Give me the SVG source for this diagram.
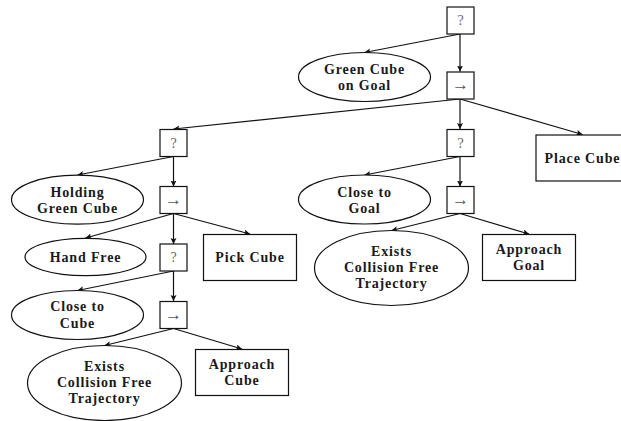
<svg xmlns="http://www.w3.org/2000/svg" width="621" height="421" viewBox="0 0 621 421">
<style>
.n{fill:#fff;stroke:#111;stroke-width:1.2}
.t{font-family:"Liberation Serif",serif;font-weight:bold;font-size:14px;letter-spacing:.85px;text-anchor:middle;fill:#1a1a1a}
.s{font-family:"Liberation Serif",serif;font-size:14px;text-anchor:middle;fill:#666}
.r{font-family:"Liberation Serif",serif;font-size:17px;text-anchor:middle;fill:#555}
.c{fill:none;stroke:#111;stroke-width:1.2;marker-end:url(#a)}
</style>
<defs><marker id="a" markerUnits="userSpaceOnUse" markerWidth="8" markerHeight="7" refX="6" refY="3" orient="auto"><path d="M0 0L6 3L0 6L1.200 3Z" fill="#111"/></marker></defs>
<g id="connectors">
<path class="c" d="M460 34L364.500 52.500"/>
<path class="c" d="M460 34V71.500"/>
<path class="c" d="M460 99L173.500 129"/>
<path class="c" d="M460 99V129"/>
<path class="c" d="M460 99L582.500 134.500"/>
<path class="c" d="M460 156.500L364.500 175"/>
<path class="c" d="M460 156.500V186.500"/>
<path class="c" d="M460 213.500L391.500 230.500"/>
<path class="c" d="M460 213.500L529 234"/>
<path class="c" d="M173.500 156.500L77.500 175"/>
<path class="c" d="M173.500 156.500V186.500"/>
<path class="c" d="M173.500 213.500L85.500 238"/>
<path class="c" d="M173.500 213.500V244"/>
<path class="c" d="M173.500 213.500L250 234"/>
<path class="c" d="M173.500 271L77.500 290.500"/>
<path class="c" d="M173.500 271V301"/>
<path class="c" d="M173.500 328.500L104.500 345.500"/>
<path class="c" d="M173.500 328.500L242 349"/>
</g>
<g id="root"><rect class="n" x="447" y="7" width="27" height="27"/><text class="s" x="460.500" y="25">?</text></g>
<g id="green-cube-on-goal"><ellipse class="n" cx="364.500" cy="77" rx="66" ry="24.500"/><text class="t" x="364.500" y="74">Green Cube</text><text class="t" x="364.500" y="90">on Goal</text></g>
<g id="seq-1"><rect class="n" x="447" y="72" width="27" height="27"/><text class="r" x="460.500" y="90">→</text></g>
<g id="fallback-left"><rect class="n" x="160" y="129.500" width="27" height="27"/><text class="s" x="173.500" y="147.500">?</text></g>
<g id="fallback-right"><rect class="n" x="447" y="129.500" width="27" height="27"/><text class="s" x="460.500" y="147.500">?</text></g>
<g id="place-cube"><rect class="n" x="536" y="135" width="93" height="46"/><text class="t" x="582.500" y="162.500">Place Cube</text></g>
<g id="holding-green-cube"><ellipse class="n" cx="77.500" cy="199.700" rx="66" ry="24.500"/><text class="t" x="77.500" y="197">Holding</text><text class="t" x="77.500" y="213">Green Cube</text></g>
<g id="seq-left"><rect class="n" x="160" y="186.500" width="27" height="27"/><text class="r" x="173.500" y="204.500">→</text></g>
<g id="close-to-goal"><ellipse class="n" cx="364.500" cy="199.500" rx="66" ry="24.500"/><text class="t" x="364.500" y="197">Close to</text><text class="t" x="364.500" y="213">Goal</text></g>
<g id="seq-right"><rect class="n" x="447" y="186.500" width="27" height="27"/><text class="r" x="460.500" y="204.500">→</text></g>
<g id="hand-free"><ellipse class="n" cx="85.500" cy="257" rx="60.500" ry="18.700"/><text class="t" x="85.500" y="262">Hand Free</text></g>
<g id="fallback-hand"><rect class="n" x="160" y="244" width="27" height="27"/><text class="s" x="173.500" y="262">?</text></g>
<g id="pick-cube"><rect class="n" x="203.500" y="234.500" width="93" height="46"/><text class="t" x="250" y="262">Pick Cube</text></g>
<g id="exists-right"><ellipse class="n" cx="391.500" cy="268" rx="77" ry="37.500"/><text class="t" x="391.500" y="256">Exists</text><text class="t" x="391.500" y="272">Collision Free</text><text class="t" x="391.500" y="288">Trajectory</text></g>
<g id="approach-goal"><rect class="n" x="482.500" y="234.500" width="93" height="46"/><text class="t" x="529" y="254">Approach</text><text class="t" x="529" y="270">Goal</text></g>
<g id="close-to-cube"><ellipse class="n" cx="77.500" cy="315" rx="66" ry="24.500"/><text class="t" x="77.500" y="311">Close to</text><text class="t" x="77.500" y="328">Cube</text></g>
<g id="seq-cube"><rect class="n" x="160" y="301.500" width="27" height="27"/><text class="r" x="173.500" y="319.500">→</text></g>
<g id="exists-left"><ellipse class="n" cx="104.500" cy="383" rx="77" ry="37.500"/><text class="t" x="104.500" y="371">Exists</text><text class="t" x="104.500" y="387">Collision Free</text><text class="t" x="104.500" y="403">Trajectory</text></g>
<g id="approach-cube"><rect class="n" x="195.500" y="349.500" width="93" height="46"/><text class="t" x="242" y="369">Approach</text><text class="t" x="242" y="385">Cube</text></g>
</svg>
